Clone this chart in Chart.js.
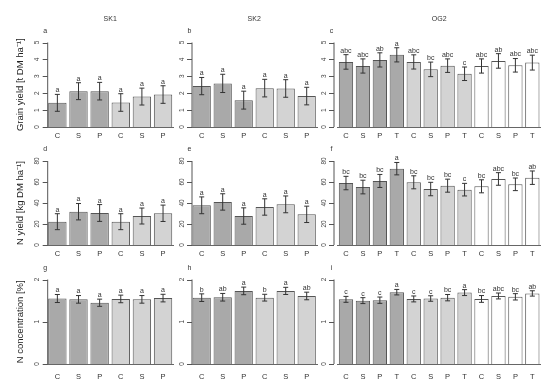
<!DOCTYPE html>
<html>
<head>
<meta charset="utf-8">
<script src="https://cdn.jsdelivr.net/npm/chart.js@4.4.0/dist/chart.umd.min.js"></script>
<style>
  body { margin: 0; background: #fff; }
  #wrap { position: relative; width: 550px; height: 388px; }
  #wrap canvas { position: absolute; left: 0; top: 0; }
</style>
</head>
<body>
<div id="wrap"></div>
<script>
const cats6 = ["C", "S", "P", "C", "S", "P"];
const cats12 = ["C", "S", "P", "T", "C", "S", "P", "T", "C", "S", "P", "T"];
const siteTitles = ["SK1", "SK2", "OG2"];
const panelLetters = ["a", "b", "c", "d", "e", "f", "g", "h", "i"];
const rowTitles = ["Grain yield [t DM ha\u207B\u00B9]", "N yield [kg DM ha\u207B\u00B9]", "N concentration [%]"];
const rowTicks = [[0, 1, 2, 3, 4, 5], [0, 20, 40, 60, 80], [0, 1, 2]];

// grain yield
const grainSK1 = [1.43, 2.12, 2.12, 1.45, 1.80, 1.92];
const grainSK1Err = [0.50, 0.50, 0.52, 0.52, 0.50, 0.52];
const grainSK2 = [2.42, 2.58, 1.59, 2.30, 2.28, 1.83];
const grainSK2Err = [0.51, 0.54, 0.53, 0.52, 0.52, 0.52];
const grainOG2 = [3.85, 3.61, 3.97, 4.27, 3.85, 3.41, 3.63, 3.15, 3.61, 3.91, 3.65, 3.81];
const grainOG2Err = [0.43, 0.42, 0.42, 0.42, 0.42, 0.43, 0.40, 0.40, 0.42, 0.43, 0.40, 0.44];
// N yield
const nyldSK1 = [22.2, 31.7, 30.5, 22.2, 27.6, 30.2];
const nyldSK1Err = [7.6, 7.8, 8.0, 7.6, 7.6, 7.8];
const nyldSK2 = [37.8, 41.0, 27.6, 36.2, 38.7, 29.2];
const nyldSK2Err = [8.0, 7.8, 7.8, 7.8, 8.0, 7.8];
const nyldOG2 = [59.0, 55.2, 61.0, 72.7, 59.7, 53.3, 56.5, 52.7, 55.9, 62.9, 57.8, 64.1];
const nyldOG2Err = [6.4, 6.5, 6.2, 5.9, 6.2, 6.4, 6.2, 6.0, 6.2, 6.0, 6.0, 6.4];
// N concentration
const nconcSK1 = [1.55, 1.53, 1.45, 1.54, 1.53, 1.56];
const nconcSK1Err = [0.095, 0.09, 0.085, 0.09, 0.09, 0.09];
const nconcSK2 = [1.57, 1.58, 1.73, 1.57, 1.73, 1.61];
const nconcSK2Err = [0.09, 0.09, 0.09, 0.08, 0.085, 0.09];
const nconcOG2 = [1.53, 1.50, 1.51, 1.70, 1.54, 1.55, 1.57, 1.69, 1.54, 1.61, 1.59, 1.67];
const nconcOG2Err = [0.07, 0.07, 0.075, 0.065, 0.07, 0.065, 0.075, 0.07, 0.08, 0.07, 0.075, 0.063];

// significance letters
const sigAll6 = ["a", "a", "a", "a", "a", "a"];
const sigGrainOG2 = ["abc", "abc", "ab", "a", "abc", "bc", "abc", "c", "abc", "ab", "abc", "abc"];
const sigNyldOG2 = ["bc", "bc", "bc", "a", "bc", "bc", "bc", "c", "bc", "abc", "bc", "ab"];
const sigNconcSK2 = ["b", "ab", "a", "b", "a", "ab"];
const sigNconcOG2 = ["c", "c", "c", "a", "c", "c", "bc", "a", "bc", "abc", "bc", "ab"];

const DARK = "#a9a9a9", LIGHT = "#d3d3d3", WHITE = "#ffffff";
const colors6 = [DARK, DARK, DARK, LIGHT, LIGHT, LIGHT];
const colors12 = [DARK, DARK, DARK, DARK, LIGHT, LIGHT, LIGHT, LIGHT, WHITE, WHITE, WHITE, WHITE];

// layout of the 3x3 grid (pixels)
const colArea = [[46.8, 173.6], [191.2, 317.2], [337.5, 540.8]];
const colAxisX = [47.7, 192, 334];
const rowArea = [[42.5, 127], [161, 245], [279.5, 364]];
const rowLabelPad = [4, 4, 8];
const FONT = "'Liberation Sans', Arial, sans-serif";

const panels = [
  [grainSK1, grainSK1Err, sigAll6], [grainSK2, grainSK2Err, sigAll6], [grainOG2, grainOG2Err, sigGrainOG2],
  [nyldSK1, nyldSK1Err, sigAll6], [nyldSK2, nyldSK2Err, sigAll6], [nyldOG2, nyldOG2Err, sigNyldOG2],
  [nconcSK1, nconcSK1Err, sigAll6], [nconcSK2, nconcSK2Err, sigNconcSK2], [nconcOG2, nconcOG2Err, sigNconcOG2]
];

const extras = {
  id: "extras",
  afterDatasetsDraw(chart, args, o) {
    const ctx = chart.ctx;
    const y = chart.scales.y;
    const meta = chart.getDatasetMeta(0);
    const area = chart.chartArea;
    ctx.save();

    // y axis, R style
    const ticks = rowTicks[o.row];
    const yTop = y.getPixelForValue(ticks[ticks.length - 1]);
    const yBot = y.getPixelForValue(0);
    ctx.strokeStyle = "#555";
    ctx.lineWidth = 1;
    ctx.beginPath();
    ctx.moveTo(o.axisX, yTop);
    ctx.lineTo(o.axisX, yBot);
    ticks.forEach(t => {
      const py = Math.round(y.getPixelForValue(t)) + 0.5;
      ctx.moveTo(o.axisX, py);
      ctx.lineTo(o.axisX - 5, py);
    });
    ctx.stroke();
    ctx.fillStyle = "#444";
    ctx.font = "6.5px " + FONT;
    ctx.textAlign = "center";
    ctx.textBaseline = "middle";
    ticks.forEach(t => {
      ctx.save();
      ctx.translate(o.axisX - 10, y.getPixelForValue(t));
      ctx.rotate(-Math.PI / 2);
      ctx.fillText(String(t), 0, 0);
      ctx.restore();
    });

    // error bars and letters
    ctx.strokeStyle = "#333";
    ctx.fillStyle = "#333";
    ctx.font = "7px " + FONT;
    ctx.textBaseline = "bottom";
    o.values.forEach((v, i) => {
      const x = meta.data[i].x;
      const hi = y.getPixelForValue(v + o.errs[i]);
      const lo = y.getPixelForValue(v - o.errs[i]);
      ctx.beginPath();
      ctx.moveTo(x, hi); ctx.lineTo(x, lo);
      ctx.moveTo(x - 2.5, hi); ctx.lineTo(x + 2.5, hi);
      ctx.moveTo(x - 2.5, lo); ctx.lineTo(x + 2.5, lo);
      ctx.stroke();
      ctx.fillText(o.sig[i], x, hi - 0.5);
    });

    // panel letter
    ctx.fillStyle = "#333";
    ctx.font = "7px " + FONT;
    ctx.textBaseline = "middle";
    ctx.fillText(panelLetters[o.row * 3 + o.col], o.axisX - 2.5, area.top - 11.5);

    // site title
    if (o.row === 0) {
      ctx.font = "7px " + FONT;
      ctx.fillText(siteTitles[o.col], (area.left + area.right) / 2, 19);
    }

    // row title
    if (o.col === 0) {
      ctx.save();
      ctx.font = "9.5px " + FONT;
      ctx.fillStyle = "#222";
      ctx.translate(20, (area.top + area.bottom) / 2);
      ctx.rotate(-Math.PI / 2);
      ctx.fillText(rowTitles[o.row], 0, 0);
      ctx.restore();
    }
    ctx.restore();
  }
};

const wrap = document.getElementById("wrap");
panels.forEach(([values, errs, sig], k) => {
  const row = Math.floor(k / 3), col = k % 3;
  const canvas = document.createElement("canvas");
  canvas.width = 550;
  canvas.height = 388;
  wrap.appendChild(canvas);
  const cats = col === 2 ? cats12 : cats6;
  const xH = 20;
  const ticks = rowTicks[row];
  new Chart(canvas, {
    type: "bar",
    data: {
      labels: cats,
      datasets: [{
        data: values,
        backgroundColor: col === 2 ? colors12 : colors6,
        borderColor: "#555",
        borderWidth: 1,
        barPercentage: col === 2 ? 0.845 : 0.87,
        categoryPercentage: 1
      }]
    },
    options: {
      responsive: false,
      animation: false,
      devicePixelRatio: 1,
      events: [],
      layout: {
        padding: {
          left: colArea[col][0],
          right: 550 - colArea[col][1],
          top: rowArea[row][0],
          bottom: 388 - rowArea[row][1] - xH
        }
      },
      plugins: {
        legend: { display: false },
        tooltip: { enabled: false },
        extras: { row, col, values, errs, sig, axisX: colAxisX[col] }
      },
      scales: {
        x: {
          afterFit: s => { s.height = xH; },
          grid: { display: false, drawTicks: false },
          border: { display: true, color: "#666", width: 1 },
          ticks: {
            color: "#333",
            font: { size: 7.5, family: FONT },
            padding: rowLabelPad[row],
            maxRotation: 0,
            autoSkip: false
          }
        },
        y: {
          display: false,
          min: 0,
          max: ticks[ticks.length - 1]
        }
      }
    },
    plugins: [extras]
  });
});
</script>
</body>
</html>
